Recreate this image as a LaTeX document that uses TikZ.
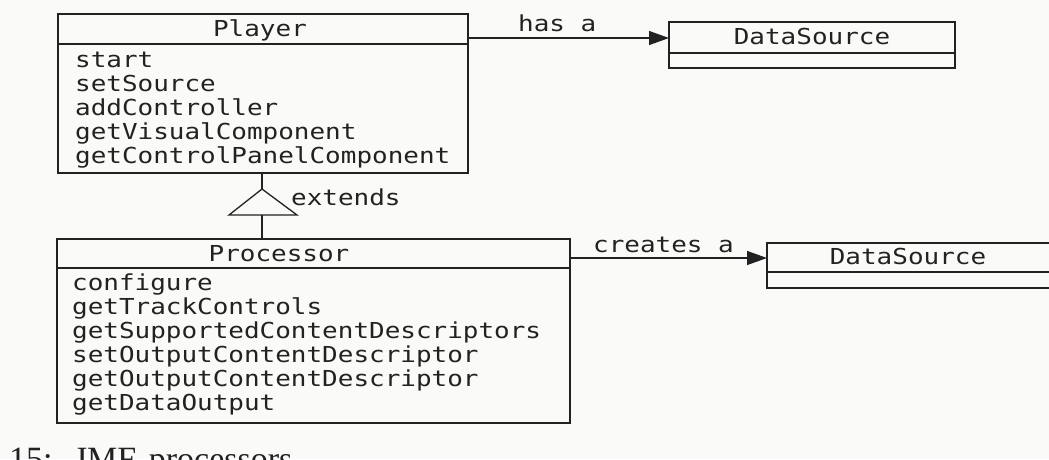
\documentclass[tikz,border=0pt]{standalone}
\usepackage{fontspec}
\usetikzlibrary{arrows.meta}
\newfontfamily\umlfont[FakeStretch=1.18]{DejaVu Sans Mono}
\newfontfamily\capfont{Liberation Serif}
\definecolor{ink}{RGB}{34,34,34}
\definecolor{paper}{RGB}{250,250,248}

\begin{document}
\begin{tikzpicture}[x=1pt,y=-1pt,
  cls/.style={draw=ink, line width=1.3pt, rectangle, inner sep=0pt, outer sep=0pt, anchor=north west},
  txt/.style={inner sep=0pt, anchor=base west, text=ink, font=\umlfont\fontsize{22}{24}\selectfont},
  ttl/.style={txt, anchor=base},
  rel/.style={draw=ink, line width=1.3pt},
  opentip/.style={-{Triangle[length=20pt,width=14pt]}}
]
\useasboundingbox (0,0) rectangle (1049,459);
\fill[paper] (0,0) rectangle (1049,459);
\clip (0,0) rectangle (1049,459);

% Player class
\node[cls, minimum width=410pt, minimum height=159pt] (player) at (58,14) {};
\draw[rel] (player.west |- 0,44) -- (player.east |- 0,44);
\node[ttl] (playerT) at (260,36) {Player};
\node[txt] (pm1) at (75,67)  {start};
\node[txt] (pm2) at (75,91)  {setSource};
\node[txt] (pm3) at (75,115) {addController};
\node[txt] (pm4) at (75,139) {getVisualComponent};
\node[txt] (pm5) at (75,163) {getControlPanelComponent};

% DataSource held by the player
\node[cls, minimum width=286pt, minimum height=46pt] (ds1) at (669,22) {};
\draw[rel] (ds1.west |- 0,53) -- (ds1.east |- 0,53);
\node[ttl] (ds1T) at (812,44) {DataSource};

% Processor class
\node[cls, minimum width=513pt, minimum height=184pt] (proc) at (57,239) {};
\draw[rel] (proc.west |- 0,268) -- (proc.east |- 0,268);
\node[ttl] (procT) at (279,261) {Processor};
\node[txt] (qm1) at (72,290) {configure};
\node[txt] (qm2) at (72,314) {getTrackControls};
\node[txt] (qm3) at (72,338) {getSupportedContentDescriptors};
\node[txt] (qm4) at (72,362) {setOutputContentDescriptor};
\node[txt] (qm5) at (72,386) {getOutputContentDescriptor};
\node[txt] (qm6) at (72,410) {getDataOutput};

% DataSource created by the processor
\node[cls, minimum width=564pt, minimum height=45pt] (ds2) at (767,243) {};
\draw[rel] (ds2.west |- 0,272) -- (ds2.east |- 0,272);
\node[ttl] (ds2T) at (908,264) {DataSource};

% "has a" association
\coordinate (hasy) at (0,38);
\draw[rel, opentip] (player.east |- hasy) -- (ds1.west |- hasy);
\node[txt] (hasL) at (518,31) {has a};

% "creates a" association
\coordinate (crey) at (0,258);
\draw[rel, opentip] (proc.east |- crey) -- (ds2.west |- crey);
\node[txt] (creL) at (593,252) {creates a};

% generalization: Processor extends Player
\coordinate (apex) at (262,189);
\coordinate (bl) at (229,215);
\coordinate (br) at (297,215);
\coordinate (bmid) at (262,215);
\draw[rel] (player.south -| apex) -- (apex);
\draw[rel, line join=miter] (bl) -- (apex) -- (br) -- cycle;
\draw[rel] (bmid) -- (proc.north -| bmid);
\node[txt] (extL) at (291,205) {extends};

% caption
\node[inner sep=0pt, anchor=base west, text=ink, font=\capfont\fontsize{34}{34}\selectfont] (cap) at (9,470) {15:\hspace{10pt} JMF\hspace{4pt} processors};
\end{tikzpicture}
\end{document}
